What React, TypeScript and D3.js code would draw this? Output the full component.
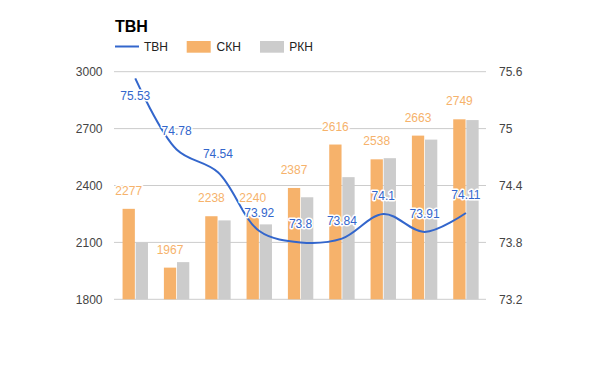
import React from 'react';
import * as d3 from 'd3';

const categories = ['1', '2', '3', '4', '5', '6', '7', '8', '9'];
const ckh = [2277, 1967, 2238, 2240, 2387, 2616, 2538, 2663, 2749];
const pkh = [2100, 1996, 2216, 2195, 2338, 2444, 2544, 2642, 2745];
const tbh = [75.53, 74.78, 74.54, 73.92, 73.8, 73.84, 74.1, 73.91, 74.11];
const leftTicks = [1800, 2100, 2400, 2700, 3000];
const rightTicks = [73.2, 73.8, 74.4, 75, 75.6];

const width = 600;
const height = 371;
const font = 'Arial, "Liberation Sans", sans-serif';
const orange = '#f6b26b';
const grey = '#cccccc';
const blue = '#3366cc';

const App = () => {
    const left = 114;
    const right = 486;
    const top = 71.7;
    const bottom = 299.3;

    const x = d3.scaleBand<string>().domain(categories).range([left, right]);
    const yL = d3.scaleLinear().domain([1800, 3000]).range([bottom, top]);
    const yR = d3.scaleLinear().domain([73.2, 75.6]).range([bottom, top]);

    const barW = 12.3;
    const gap = 0.8;
    const cx = (c: string) => (x(c) as number) + x.bandwidth() / 2 + 0.6;

    const line = d3.line<number>()
        .x((_, i) => cx(categories[i]))
        .y(d => yR(d))
        .curve(d3.curveCatmullRom.alpha(0.5));

    return (
        <svg width={width} height={height} style={{ position: 'absolute', left: 0, top: 0 }} fontFamily={font}>
            <rect width={width} height={height} fill="#fff" />
            <text x={115} y={32} fontSize={16} fontWeight="bold" fill="#000">ТВН</text>

            <g fontSize={12} fill="#222">
                <line x1={115} x2={139} y1={46.5} y2={46.5} stroke={blue} strokeWidth={2} />
                <text x={144} y={51}>ТВН</text>
                <rect x={186.7} y={41} width={24} height={11.7} fill={orange} />
                <text x={216.5} y={51}>СКН</text>
                <rect x={260} y={41} width={24} height={11.7} fill={grey} />
                <text x={289.3} y={51}>РКН</text>
            </g>

            {leftTicks.map(t => (
                <g key={t}>
                    <line x1={left} x2={right} y1={yL(t)} y2={yL(t)} stroke="#cccccc" strokeWidth={1} />
                    <text x={102.5} y={yL(t) + 4.5} textAnchor="end" fontSize={12} fill="#444">{t}</text>
                </g>
            ))}
            {rightTicks.map(t => (
                <text key={t} x={499} y={yR(t) + 4.5} fontSize={12} fill="#444">{t}</text>
            ))}

            {categories.map((c, i) => (
                <g key={c}>
                    <rect x={cx(c) - gap / 2 - barW} y={yL(ckh[i])} width={barW} height={bottom - yL(ckh[i])} fill={orange} />
                    <rect x={cx(c) + gap / 2} y={yL(pkh[i])} width={barW} height={bottom - yL(pkh[i])} fill={grey} />
                </g>
            ))}

            <path d={line(tbh) || ''} fill="none" stroke={blue} strokeWidth={2} />

            <g fontSize={12} textAnchor="middle" stroke="#fff" strokeWidth={3} paintOrder="stroke" strokeLinejoin="round">
                {categories.map((c, i) => (
                    <text key={'o' + c} x={cx(c) - gap / 2 - barW / 2} y={yL(ckh[i]) - 14} fill={orange}>{ckh[i]}</text>
                ))}
                {categories.map((c, i) => (
                    <text key={'b' + c} x={cx(c)} y={i === 0 ? yR(tbh[i]) + 21.5 : yR(tbh[i]) - 14} fill={blue}>{tbh[i]}</text>
                ))}
            </g>
        </svg>
    );
};

export default App;
